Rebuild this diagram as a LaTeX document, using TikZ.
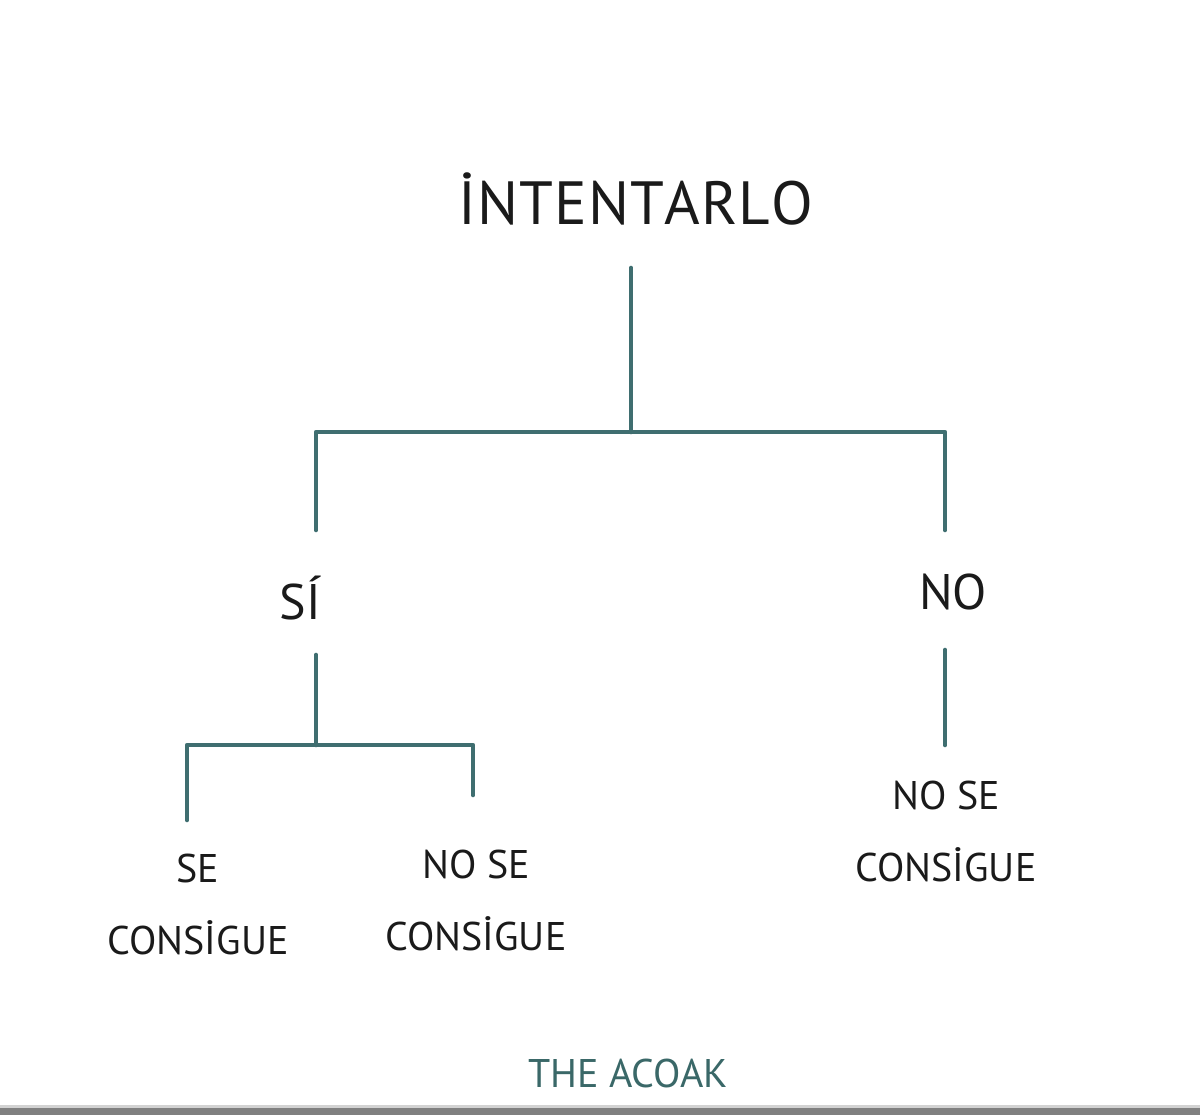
\documentclass[tikz,border=0pt]{standalone}
\usepackage{fontspec}
\setmainfont{PT Sans}
\definecolor{teal1}{HTML}{3F6E70}
\definecolor{ink}{HTML}{1A1A1A}
\definecolor{sig}{HTML}{3A6868}
\begin{document}
\begin{tikzpicture}[x=1pt,y=-1pt,
  conn/.style={draw=teal1,line width=4.6pt,line cap=round,line join=round},
  big/.style={text=ink,font=\fontsize{61}{61}\selectfont,inner sep=0pt},
  mid/.style={text=ink,font=\fontsize{50}{50}\selectfont,inner sep=0pt},
  lbl/.style={text=ink,font=\fontsize{40}{72}\selectfont,inner sep=0pt,align=center}]
\useasboundingbox (0,0) rectangle (1200,1115);
\fill[white] (0,0) rectangle (1200,1115);
\fill[gray!35] (0,1105) rectangle (1200,1108);
\fill[black!50] (0,1108) rectangle (1200,1115);
% texts
\node[big] (root) at (636,199) {İ\hspace{1pt}N\hspace{1pt}T\hspace{1pt}E\hspace{1pt}N\hspace{1pt}T\hspace{1pt}A\hspace{1pt}R\hspace{1pt}L\hspace{1pt}O};
\node[mid] (si) at (300,598) {SÍ};
\node[mid] (no) at (953,592) {NO};
\node[lbl] (a) at (198,904) {SE\\CONSİGUE};
\node[lbl] (b) at (476,900) {NO SE\\CONSİGUE};
\node[lbl] (c) at (946,831) {NO SE\\CONSİGUE};
\node[text=sig,font=\fontsize{40}{40}\selectfont,inner sep=0pt] (sign) at (628,1073) {THE ACOAK};
% junction coordinates
\coordinate (r0) at (631,268);
\coordinate (r1) at (631,432);
\coordinate (hl) at (316,432);
\coordinate (hr) at (945,432);
\coordinate (sl) at (316,530);
\coordinate (nr) at (945,530);
\coordinate (s0) at (316,655);
\coordinate (s1) at (316,745);
\coordinate (hl2) at (187,745);
\coordinate (hr2) at (473,745);
\coordinate (al) at (187,820);
\coordinate (br) at (473,795);
\coordinate (n0) at (945,650);
\coordinate (n1) at (945,745);
% connectors
\draw[conn] (r0) -- (r1);
\draw[conn] (sl) -- (hl) -- (hr) -- (nr);
\draw[conn] (s0) -- (s1);
\draw[conn] (al) -- (hl2) -- (hr2) -- (br);
\draw[conn] (n0) -- (n1);
\end{tikzpicture}
\end{document}
